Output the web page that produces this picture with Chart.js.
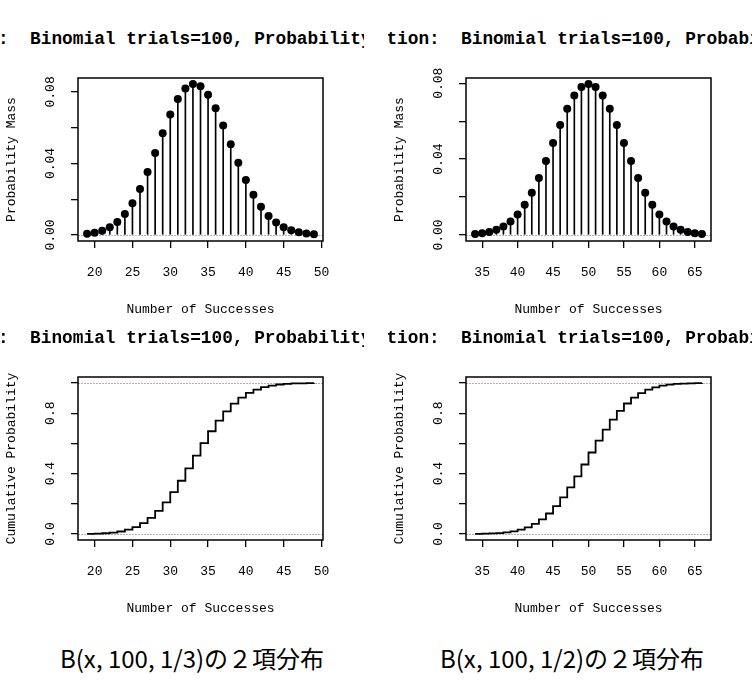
<!DOCTYPE html>
<html>
<head>
<meta charset="utf-8">
<script src="https://cdn.jsdelivr.net/npm/chart.js"></script>
<style>
  body { margin: 0; background: #fff; width: 752px; height: 687px; overflow: hidden; position: relative; }
  .panel { position: absolute; width: 364px; height: 320px; overflow: hidden; }
  .panel canvas { position: absolute; left: 0; top: 0; }
  .ttl { position: absolute; top: 29px; line-height: 20px; white-space: pre; font: bold 17.8px "Liberation Mono", monospace; color: #000; }
  .cap { position: absolute; top: 640px; width: 380px; text-align: center; font: 24px "Noto Sans CJK JP", sans-serif; color: #000; }
</style>
</head>
<body>

<div class="panel" style="left:0;top:0"><div class="ttl" id="t1" style="left:-258px"></div><canvas id="c1" width="364" height="320"></canvas></div>
<div class="panel" style="left:388px;top:0"><div class="ttl" id="t2" style="left:-215px"></div><canvas id="c2" width="364" height="320"></canvas></div>
<div class="panel" style="left:0;top:299px"><div class="ttl" id="t3" style="left:-258px"></div><canvas id="c3" width="364" height="320"></canvas></div>
<div class="panel" style="left:388px;top:299px"><div class="ttl" id="t4" style="left:-215px"></div><canvas id="c4" width="364" height="320"></canvas></div>
<div class="cap" id="cap1" style="left:2px"></div>
<div class="cap" id="cap2" style="left:382px"></div>

<script>
// B(x, 100, 1/3)
const k1 = [19, 20, 21, 22, 23, 24, 25, 26, 27, 28, 29, 30, 31, 32, 33, 34, 35, 36, 37, 38, 39, 40, 41, 42, 43, 44, 45, 46, 47, 48, 49];
const pmf1 = [0.00062, 0.00126, 0.00240, 0.00430, 0.00729, 0.01170, 0.01778, 0.02565, 0.03515, 0.04582, 0.05688,
  0.06731, 0.07599, 0.08193, 0.08441, 0.08317, 0.07842, 0.07080, 0.06123, 0.05076, 0.04035, 0.03077,
  0.02251, 0.01581, 0.01066, 0.00691, 0.00430, 0.00257, 0.00148, 0.00082, 0.00043];
const cdf1 = [0.0011, 0.0024, 0.0048, 0.0091, 0.0164, 0.0281, 0.0458, 0.0715, 0.1066, 0.1525, 0.2093,
  0.2767, 0.3526, 0.4346, 0.5190, 0.6022, 0.6806, 0.7514, 0.8126, 0.8634, 0.9037, 0.9345,
  0.9570, 0.9728, 0.9835, 0.9904, 0.9947, 0.9972, 0.9984, 0.9991, 0.9996];

// B(x, 100, 1/2)
const k2 = [34, 35, 36, 37, 38, 39, 40, 41, 42, 43, 44, 45, 46, 47, 48, 49, 50, 51, 52, 53, 54, 55, 56, 57, 58, 59, 60, 61, 62, 63, 64, 65, 66];
const pmf2 = [0.00046, 0.00086, 0.00156, 0.00270, 0.00447, 0.00711, 0.01084, 0.01587, 0.02229, 0.03007, 0.03895,
  0.04847, 0.05796, 0.06659, 0.07353, 0.07803, 0.07959, 0.07803, 0.07353, 0.06659, 0.05796, 0.04847,
  0.03895, 0.03007, 0.02229, 0.01587, 0.01084, 0.00711, 0.00447, 0.00270, 0.00156, 0.00086, 0.00046];
const cdf2 = [0.0009, 0.0018, 0.0033, 0.0060, 0.0105, 0.0176, 0.0284, 0.0443, 0.0666, 0.0967, 0.1356,
  0.1841, 0.2421, 0.3086, 0.3822, 0.4602, 0.5398, 0.6178, 0.6914, 0.7579, 0.8159, 0.8644,
  0.9033, 0.9334, 0.9557, 0.9716, 0.9824, 0.9895, 0.9940, 0.9967, 0.9982, 0.9991, 0.9996];

// ticks
const xTicks1 = [20, 25, 30, 35, 40, 45, 50];
const xTicks2 = [35, 40, 45, 50, 55, 60, 65];
const pmfTicks = [0, 0.02, 0.04, 0.06, 0.08];
const pmfLabels = ['0.00', '', '0.04', '', '0.08'];
const cdfTicks = [0, 0.2, 0.4, 0.6, 0.8, 1.0];
const cdfLabels = ['0.0', '', '0.4', '', '0.8', ''];

// texts
const titles = [
  'Probability Distribution:  Binomial trials=100, Probability of success=0.3333',
  'Probability Distribution:  Binomial trials=100, Probability of success=0.5'
];
const captions = ['B(x, 100, 1/3)の２項分布', 'B(x, 100, 1/2)の２項分布'];

document.getElementById('t1').textContent = titles[0];
document.getElementById('t3').textContent = titles[0];
document.getElementById('t2').textContent = titles[1];
document.getElementById('t4').textContent = titles[1];
document.getElementById('cap1').textContent = captions[0];
document.getElementById('cap2').textContent = captions[1];

const FONT = '"Liberation Mono", monospace';

// R-style axis range: data range widened by 4% on each side
function rRange(lo, hi) {
  const d = (hi - lo) * 0.04;
  return [lo - d, hi + d];
}

const rFrame = {
  id: 'rFrame',
  beforeDatasetsDraw(chart, args, opts) {
    const { ctx, chartArea: a, scales: { y } } = chart;
    ctx.save();
    ctx.strokeStyle = '#bdaac8';
    ctx.lineWidth = 1;
    ctx.setLineDash([2, 1]);
    opts.refLines.forEach(v => {
      const py = Math.round(y.getPixelForValue(v)) + 0.5;
      ctx.beginPath();
      ctx.moveTo(a.left, py);
      ctx.lineTo(a.right, py);
      ctx.stroke();
    });
    ctx.restore();
  },
  afterDraw(chart, args, opts) {
    const { ctx, chartArea: a, scales: { y } } = chart;
    ctx.save();
    ctx.strokeStyle = '#000';
    ctx.lineWidth = 1.5;
    ctx.strokeRect(a.left, a.top, a.right - a.left, a.bottom - a.top);
    // rotated y tick labels, like R's las=0
    ctx.font = '13px ' + FONT;
    ctx.fillStyle = '#000';
    ctx.textAlign = 'center';
    ctx.textBaseline = 'middle';
    y.ticks.forEach((t, i) => {
      const lab = opts.yLabels[i];
      if (!lab) return;
      ctx.save();
      ctx.translate(a.left - 27, y.getPixelForValue(t.value));
      ctx.rotate(-Math.PI / 2);
      ctx.fillText(lab, 0, 0);
      ctx.restore();
    });
    ctx.restore();
  }
};

function axes(xs, xTicks, yRange, yTicks, yTitle) {
  const xr = rRange(xs[0], xs[xs.length - 1]);
  return {
    x: {
      type: 'linear', min: xr[0], max: xr[1], offset: false,
      afterBuildTicks: s => { s.ticks = xTicks.map(v => ({ value: v })); },
      afterFit: s => { s.height = 79; },
      grid: { drawOnChartArea: false, drawTicks: true, tickLength: 7, color: '#000', lineWidth: 1.3, offset: false },
      border: { display: false },
      ticks: { color: '#000', font: { family: FONT, size: 13 }, padding: 17, maxRotation: 0, autoSkip: false },
      title: { display: true, text: 'Number of Successes', color: '#000', font: { family: FONT, size: 13 }, padding: 3 }
    },
    y: {
      min: yRange[0], max: yRange[1],
      afterBuildTicks: s => { s.ticks = yTicks.map(v => ({ value: v })); },
      afterFit: s => { s.width = 78; },
      grid: { drawOnChartArea: false, drawTicks: true, tickLength: 7, color: '#000', lineWidth: 1.3 },
      border: { display: false },
      ticks: { display: false },
      title: { display: true, text: yTitle, color: '#000', font: { family: FONT, size: 13 }, padding: 4 }
    }
  };
}

const common = {
  responsive: false,
  animation: false,
  devicePixelRatio: 1,
  layout: { padding: { left: 0, right: 41, top: 78, bottom: 0 } },
};

function pmfChart(id, xs, ys, xTicks) {
  const pts = xs.map((x, i) => ({ x: x, y: ys[i] }));
  new Chart(document.getElementById(id), {
    type: 'bar',
    data: {
      datasets: [
        { type: 'line', data: pts, showLine: false, pointRadius: 4, pointBackgroundColor: '#000', pointBorderWidth: 0, order: 0 },
        { type: 'bar', data: pts, backgroundColor: '#000', barThickness: 1, borderWidth: 0, order: 1 }
      ]
    },
    options: Object.assign({}, common, {
      scales: axes(xs, xTicks, rRange(0, Math.max(...ys)), pmfTicks, 'Probability Mass'),
      plugins: { legend: { display: false }, tooltip: { enabled: false }, rFrame: { refLines: [0], yLabels: pmfLabels } }
    }),
    plugins: [rFrame]
  });
}

function cdfChart(id, xs, ys, xTicks) {
  new Chart(document.getElementById(id), {
    type: 'line',
    data: {
      datasets: [{
        data: xs.map((x, i) => ({ x: x, y: ys[i] })),
        stepped: 'before', borderColor: '#000', borderWidth: 1.8, pointRadius: 0, fill: false
      }]
    },
    options: Object.assign({}, common, {
      scales: axes(xs, xTicks, rRange(0, 1), cdfTicks, 'Cumulative Probability'),
      plugins: { legend: { display: false }, tooltip: { enabled: false }, rFrame: { refLines: [0, 1], yLabels: cdfLabels } }
    }),
    plugins: [rFrame]
  });
}

pmfChart('c1', k1, pmf1, xTicks1);
pmfChart('c2', k2, pmf2, xTicks2);
cdfChart('c3', k1, cdf1, xTicks1);
cdfChart('c4', k2, cdf2, xTicks2);
</script>
</body>
</html>
